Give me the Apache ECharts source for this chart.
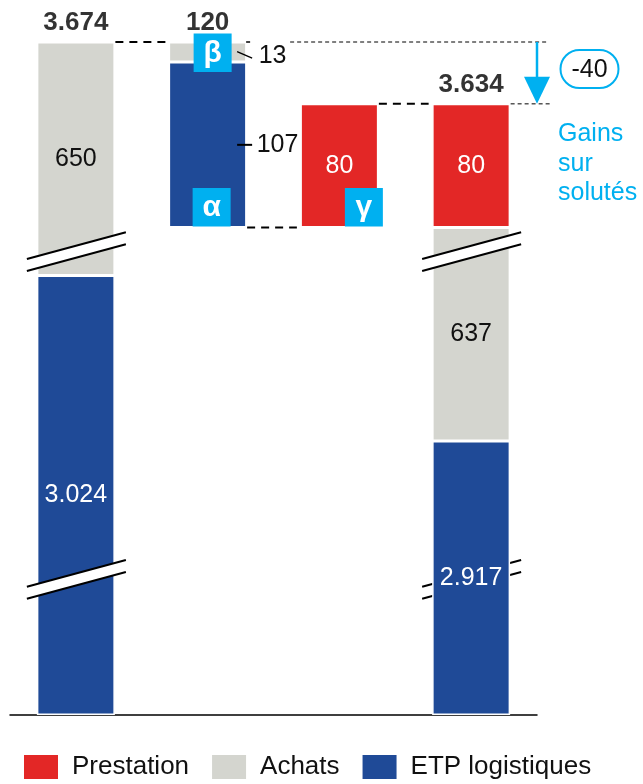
<!DOCTYPE html>
<html>
<head>
<meta charset="utf-8">
<script src="https://cdn.jsdelivr.net/npm/echarts@6/dist/echarts.min.js"></script>
<style>
  html, body { margin: 0; padding: 0; background: #fff; }
  #chart { width: 643px; height: 784px; }
</style>
</head>
<body>
<div id="chart"></div>
<script>
// Cost bridge: starting total, variation (α, β), prestation (γ), final total
const categories = ['Départ', 'Variation', 'Prestation', 'Arrivée'];
const etp = [3024, 107, null, 2917];
const achats = [650, 13, null, 637];
const prestation = [null, null, 80, 80];
const seriesNames = ['Prestation', 'Achats', 'ETP logistiques'];
const sideNote = ['Gains', 'sur', 'solutés'];
const greek = ['β', 'α', 'γ'];

const RED = '#e32726';
const GRAY = '#d4d5cf';
const BLUE = '#1f4a97';
const CYAN = '#00b0f0';
const FONT = '"Liberation Sans", Arial, sans-serif';

const startTotal = etp[0] + achats[0];
const variation = etp[1] + achats[1];
const floorLevel = startTotal - variation;
const endTotal = etp[3] + achats[3] + prestation[3];
const delta = endTotal - startTotal;
const base = [0, floorLevel, floorLevel, 0];

const totalPoints = [[0, startTotal], [1, startTotal], [3, endTotal]];
const totalLabels = [startTotal, variation, endTotal];

function fmt(v) {
  const s = String(Math.abs(v)).replace(/\B(?=(\d{3})+(?!\d))/g, '.');
  return (v < 0 ? '-' : '') + s;
}

function segment(values, textColor, sideOffset) {
  return values.map((v, i) => {
    if (v == null) return '-';
    if (i === 1) {
      return {
        value: v,
        label: { show: true, position: 'right', distance: sideOffset[0], offset: [0, sideOffset[1]], color: '#111' }
      };
    }
    return { value: v, label: { show: true, position: 'inside', color: textColor } };
  });
}

const labelBase = { fontFamily: FONT, fontSize: 25, formatter: p => fmt(p.value) };
const barBase = {
  type: 'bar', stack: 'bridge', barWidth: 78,
  itemStyle: { borderColor: '#fff', borderWidth: 1.5 },
  label: labelBase, emphasis: { disabled: true }
};

const chart = echarts.init(document.getElementById('chart'), null, { renderer: 'canvas' });

const breaksY = [
  { start: 3035.4, end: 3542.4, gap: 8 },
  { start: 83.6, end: 2831.4, gap: 8 }
];

chart.setOption({
  animation: false,
  backgroundColor: '#fff',
  textStyle: { fontFamily: FONT },
  grid: { left: 10, right: 106, top: 42, bottom: 69 },
  xAxis: {
    type: 'category', data: categories,
    axisLine: { lineStyle: { color: '#000', width: 1.5 } },
    axisTick: { show: false }, axisLabel: { show: false }, splitLine: { show: false }
  },
  yAxis: {
    type: 'value', min: 0, max: startTotal,
    breaks: breaksY,
    breakArea: { show: false, itemStyle: { opacity: 0, borderWidth: 0 } },
    axisLine: { show: false }, axisTick: { show: false }, axisLabel: { show: false }, splitLine: { show: false }
  },
  legend: {
    data: seriesNames, left: 22, top: 753, padding: 0, icon: 'rect',
    itemWidth: 36, itemHeight: 26, itemGap: 21,
    textStyle: { fontFamily: FONT, fontSize: 26, color: '#111', padding: [5, 0, 0, 8] },
    selectedMode: false
  },
  series: [
    Object.assign({}, barBase, {
      name: 'base', data: base,
      itemStyle: { color: 'transparent', borderWidth: 0 }, label: { show: false }
    }),
    Object.assign({}, barBase, {
      name: 'ETP logistiques', data: segment(etp, '#fff', [10, 0]),
      itemStyle: Object.assign({}, barBase.itemStyle, { color: BLUE })
    }),
    Object.assign({}, barBase, {
      name: 'Achats', data: segment(achats, '#111', [12, 4]),
      itemStyle: Object.assign({}, barBase.itemStyle, { color: GRAY })
    }),
    Object.assign({}, barBase, {
      name: 'Prestation', data: segment(prestation, '#fff', [10, 0]),
      itemStyle: Object.assign({}, barBase.itemStyle, { color: RED })
    }),
    {
      name: 'totals', type: 'scatter', symbolSize: 0, z: 5,
      data: totalPoints.map((p, i) => ({ value: p, total: totalLabels[i] })),
      label: {
        show: true, position: 'top', distance: 6,
        fontFamily: FONT, fontSize: 26, fontWeight: 'bold', color: '#000',
        formatter: p => fmt(totalLabels[p.dataIndex])
      },
      emphasis: { disabled: true }
    }
  ]
});

// Annotations placed from the axis scales
const px = (i, v) => chart.convertToPixel({ xAxisIndex: 0, yAxisIndex: 0 }, [i, v]);
const half = 38.5;
const cx = [0, 1, 2, 3].map(i => px(i, 0)[0]);
const yStart = px(0, startTotal)[1];
const yMid = px(1, floorLevel + etp[1])[1];
const yFloor = px(1, floorLevel)[1];
const yEnd = px(3, endTotal)[1];
const gridRight = px(3, 0)[0] + (cx[3] - cx[2]) / 2;

const g = [];
const thick = { stroke: '#000', lineWidth: 2, lineDash: [8, 6] };
const thin = { stroke: '#000', lineWidth: 1, lineDash: [4, 3] };
function line(x1, y1, x2, y2, style, z) {
  g.push({ type: 'line', z: z || 100, shape: { x1, y1, x2, y2 }, style: Object.assign({}, style) });
}

// connectors between levels
line(cx[0] + half + 1, yStart, cx[1] - half - 3, yStart, thick);
line(cx[1] + half, yStart, cx[1] + half + 4, yStart, { stroke: '#000', lineWidth: 1.5 });
line(cx[1] + half + 44, yStart, gridRight + 11, yStart, thin);
line(cx[1] + half + 1, yFloor, cx[2] - half - 4, yFloor, thick);
line(cx[2] + half + 1, yEnd, cx[3] - half - 4, yEnd, thick);
line(cx[3] + half + 1, yEnd, gridRight + 13, yEnd, thin);

// side ticks for the variation values
const yAch = (yStart + yMid) / 2;
line(cx[1] + half - 9, yAch - 0.5, cx[1] + half + 6, yAch + 6, { stroke: '#000', lineWidth: 1.3 });
const yEtp = (yMid + yFloor) / 2;
line(cx[1] + half - 9, yEtp, cx[1] + half + 6, yEtp, { stroke: '#000', lineWidth: 2 });

// greek tags
function tag(x, y, letter) {
  g.push({ type: 'rect', z: 110, shape: { x, y, width: 38, height: 38.5 }, style: { fill: CYAN } });
  g.push({
    type: 'text', z: 111,
    style: { x: x + 19, y: y + 20, text: letter, fill: '#fff', font: 'bold 30px ' + FONT, align: 'center', verticalAlign: 'middle' }
  });
}
tag(cx[1] - 14, yStart - 8.5, greek[0]);
tag(cx[1] - 15, yFloor - 39.5, greek[1]);
tag(cx[2] + 5.5, yFloor - 39.5, greek[2]);

// axis-break marks on the long bars
function breakMark(x, yc, z) {
  const s = 0.27, l = 49, r = 50, h = 6;
  const yl = d => yc - s * d;
  g.push({
    type: 'polygon', z,
    shape: { points: [[x - l, yl(-l) - h], [x + r, yl(r) - h], [x + r, yl(r) + h], [x - l, yl(-l) + h]] },
    style: { fill: '#fff' }
  });
  line(x - l, yl(-l) - h, x + r, yl(r) - h, { stroke: '#000', lineWidth: 2 }, z + 1);
  line(x - l, yl(-l) + h, x + r, yl(r) + h, { stroke: '#000', lineWidth: 2 }, z + 1);
}
const breakCenters = breaksY.map(b => (px(0, b.start)[1] + px(0, b.end)[1]) / 2);
breakMark(cx[0], breakCenters[0], 100);
breakMark(cx[0], breakCenters[1], 100);
breakMark(cx[3], breakCenters[0], 100);
breakMark(cx[3], breakCenters[1], 0);

// reduction arrow and note
const ax = gridRight;
line(ax, yStart, ax, yEnd - 20, { stroke: CYAN, lineWidth: 2.5 });
g.push({
  type: 'polygon', z: 100,
  shape: { points: [[ax - 13, yEnd - 27], [ax + 13, yEnd - 27], [ax, yEnd]] },
  style: { fill: CYAN }
});
g.push({
  type: 'rect', z: 100,
  shape: { x: ax + 23.5, y: yStart + 8, width: 58, height: 38, r: 19 },
  style: { fill: '#fff', stroke: CYAN, lineWidth: 2 }
});
g.push({
  type: 'text', z: 101,
  style: { x: ax + 52.5, y: yStart + 28, text: fmt(delta), fill: '#111', font: '25px ' + FONT, align: 'center', verticalAlign: 'middle' }
});
g.push({
  type: 'text', z: 101,
  style: { x: ax + 21, y: yEnd + 16, text: sideNote.join('\n'), fill: CYAN, font: '25px ' + FONT, lineHeight: 29.5, align: 'left', verticalAlign: 'top' }
});

chart.setOption({ graphic: g });
</script>
</body>
</html>
